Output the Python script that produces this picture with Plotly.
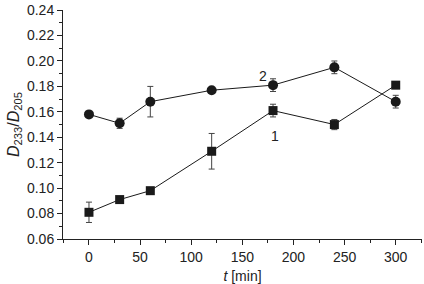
import plotly.graph_objects as go

t = [0, 30, 60, 120, 180, 240, 300]
s1 = [0.081, 0.091, 0.098, 0.129, 0.161, 0.150, 0.181]
e1 = [0.008, 0.002, 0.002, 0.014, 0.005, 0.004, 0.002]
s2 = [0.158, 0.151, 0.168, 0.177, 0.181, 0.195, 0.168]
e2 = [0.0, 0.004, 0.012, 0.0, 0.005, 0.005, 0.005]
labels = ["1", "2"]
label_pos = [(182, 0.141), (170, 0.188)]
xticks = [0, 50, 100, 150, 200, 250, 300]
yticks = [0.06, 0.08, 0.10, 0.12, 0.14, 0.16, 0.18, 0.20, 0.22, 0.24]

fig = go.Figure()
fig.add_trace(go.Scatter(x=t, y=s1, mode="lines+markers",
                         line=dict(color="#1a1a1a", width=1),
                         marker=dict(symbol="square", size=9, color="#1a1a1a"),
                         error_y=dict(type="data", array=e1, color="#444", thickness=1, width=3)))
fig.add_trace(go.Scatter(x=t, y=s2, mode="lines+markers",
                         line=dict(color="#1a1a1a", width=1),
                         marker=dict(symbol="circle", size=10, color="#1a1a1a"),
                         error_y=dict(type="data", array=e2, color="#444", thickness=1, width=3)))
for lab, (lx, ly) in zip(labels, label_pos):
    fig.add_annotation(x=lx, y=ly, text=lab, showarrow=False,
                       font=dict(size=14, color="#222"))

axfont = dict(family="Liberation Sans, Arial, sans-serif", size=14, color="#222")
ytfont = dict(family="Liberation Sans, Arial, sans-serif", size=16, color="#222")
fig.update_layout(
    width=424, height=284, showlegend=False,
    margin=dict(l=63, r=2, t=7, b=45),
    plot_bgcolor="white", paper_bgcolor="white",
    font=axfont,
    xaxis=dict(range=[-25.4, 325.7], tickvals=xticks, showline=True, linecolor="#222", linewidth=1,
               ticks="outside", ticklen=5, tickcolor="#222", showgrid=False, zeroline=False,
               ticklabeloverflow="allow",
               minor=dict(dtick=25, tick0=0, ticks="outside", ticklen=3, tickcolor="#222"),
               title=dict(text="<i>t</i> [min]", standoff=7, font=axfont)),
    yaxis=dict(range=[0.06, 0.2401], tickvals=yticks, tickformat=".2f", showline=True, linecolor="#222", linewidth=1,
               ticks="outside", ticklen=5, tickcolor="#222", showgrid=False, zeroline=False,
               ticklabeloverflow="allow",
               minor=dict(dtick=0.01, tick0=0.06, ticks="outside", ticklen=3, tickcolor="#222"),
               title=dict(text="<i>D</i><sub>233</sub>/<i>D</i><sub>205</sub>", standoff=3, font=ytfont)),
)
fig.write_html("out.html", config={"displayModeBar": False},
               post_script="document.body.style.margin='0';")
